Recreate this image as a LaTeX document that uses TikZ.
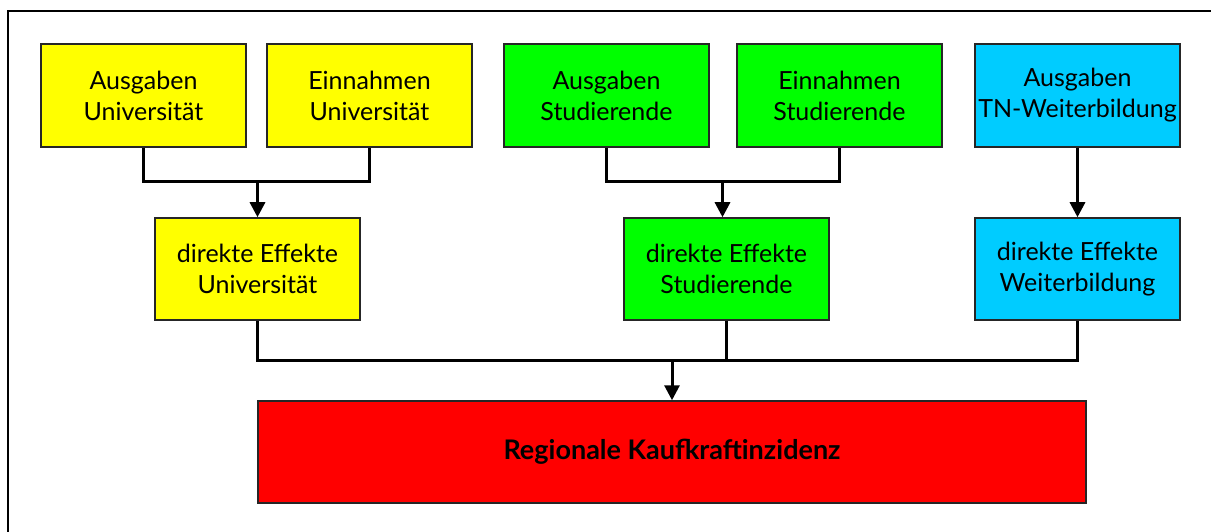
\documentclass[tikz,border=0pt]{standalone}
\usepackage{fontspec}
\setmainfont{Lato}
\usetikzlibrary{arrows.meta}
\definecolor{cyellow}{HTML}{FFFF00}
\definecolor{cgreen}{HTML}{00FF00}
\definecolor{ccyan}{HTML}{00CCFF}
\definecolor{cred}{HTML}{FF0000}
\begin{document}
\begin{tikzpicture}[x=1pt,y=-1pt,
  box/.style={draw=black!85,line width=1.5pt,minimum width=205pt,minimum height=103pt,
    inner sep=0pt,align=center,font=\fontsize{25}{31}\selectfont},
  conn/.style={line width=3pt},
  arr/.style={conn,-{Triangle[width=15pt,length=15pt]}}]
\useasboundingbox (0,0) rectangle (1211,532);
\draw[line width=2pt] (8,532) -- (8,11) -- (1211,11);
\node[box,fill=cyellow] (au) at (143.5,95.5) {Ausgaben\\Universität};
\node[box,fill=cyellow] (eu) at (369.5,95.5) {Einnahmen\\Universität};
\node[box,fill=cgreen] (as) at (606.5,95.5) {Ausgaben\\Studierende};
\node[box,fill=cgreen] (es) at (839.5,95.5) {Einnahmen\\Studierende};
\node[box,fill=ccyan] (at) at (1077.5,95.5) {Ausgaben\\TN-Weiterbildung};
\node[box,fill=cyellow,minimum height=102pt] (du) at (257.5,269) {direkte Effekte\\Universität};
\node[box,fill=cgreen,minimum height=102pt] (ds) at (726.5,269) {direkte Effekte\\Studierende};
\node[box,fill=ccyan,minimum height=102pt] (dw) at (1077.5,269) {direkte Effekte\\Weiterbildung};
\node[box,fill=cred,minimum width=828pt,minimum height=102pt,font=\fontsize{27}{31}\selectfont\bfseries] (r) at (672,452) {Regionale Kaufkraftinzidenz};
\coordinate (j1) at (257.5,182);
\coordinate (j2) at (722.5,182);
\coordinate (j3) at (672,360);
\draw[conn] (au.south) |- (j1) -| (eu.south);
\draw[arr] (j1) -- (j1 |- du.north);
\draw[conn] (as.south) |- (j2) -| (es.south);
\draw[arr] (j2) -- (j2 |- ds.north);
\draw[arr] (at.south) -- (dw.north);
\draw[conn] (du.south) |- (j3) -| (dw.south);
\draw[conn] (ds.south) -- (ds.south |- j3);
\draw[arr] (j3) -- (r.north);
\end{tikzpicture}
\end{document}
